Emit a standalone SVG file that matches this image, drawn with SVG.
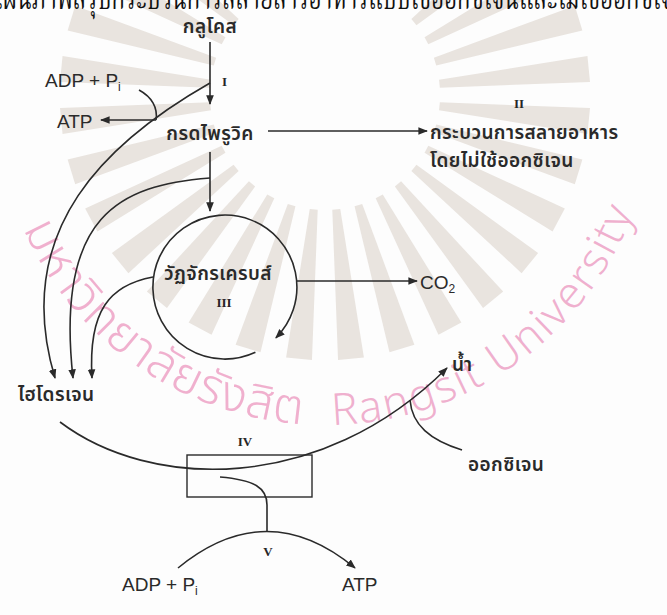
<svg xmlns="http://www.w3.org/2000/svg" xmlns:xlink="http://www.w3.org/1999/xlink" width="667" height="615" viewBox="0 0 667 615">
  <defs>
    <style>
      .th{font-family:"Noto Sans Thai","Noto Sans Thai UI","Noto Sans","DejaVu Sans",sans-serif;font-size:19px;font-weight:600;fill:#2a2a2a;letter-spacing:0.4px}
      .la{font-family:"Liberation Sans","Noto Sans",sans-serif;font-size:19px;fill:#2a2a2a}
      .rom{font-family:"Liberation Serif",serif;font-weight:bold;font-size:13px;fill:#262626}
      .ln{fill:none;stroke:#2a2a2a;stroke-width:1.6}
      .box{fill:none;stroke:#2a2a2a;stroke-width:1.4}
      .ray{fill:#e9e4df}
      .wm{font-family:"Noto Sans Thai","Lato","Noto Sans",sans-serif;font-weight:300;fill:#eda2c6;fill-opacity:0.85}
      .title{font-family:"Noto Serif Thai","Noto Sans Thai","Liberation Serif",serif;font-size:34px;fill:#111}
    </style>
    <marker id="ah" viewBox="0 0 10 10" refX="9" refY="5" markerWidth="6" markerHeight="6" orient="auto-start-reverse">
      <path d="M0,1 L10,5 L0,9 z" fill="#2a2a2a"/>
    </marker>
    <polygon id="ray" points="115,-4 265,-13 265,13 115,4"/>
    <path id="ring" d="M0,152.3 A330,330 0 0 0 650,152.3"/>
  </defs>

  <rect width="667" height="615" fill="#fdfdfd"/>

  <!-- sunburst emblem behind the chart -->
  <g id="sunburst" transform="translate(325,95)">
    <use xlink:href="#ray" class="ray" transform="rotate(5.625)"/>
    <use xlink:href="#ray" class="ray" transform="rotate(16.875)"/>
    <use xlink:href="#ray" class="ray" transform="rotate(28.125)"/>
    <use xlink:href="#ray" class="ray" transform="rotate(39.375)"/>
    <use xlink:href="#ray" class="ray" transform="rotate(50.625)"/>
    <use xlink:href="#ray" class="ray" transform="rotate(61.875)"/>
    <use xlink:href="#ray" class="ray" transform="rotate(73.125)"/>
    <use xlink:href="#ray" class="ray" transform="rotate(84.375)"/>
    <use xlink:href="#ray" class="ray" transform="rotate(95.625)"/>
    <use xlink:href="#ray" class="ray" transform="rotate(106.875)"/>
    <use xlink:href="#ray" class="ray" transform="rotate(118.125)"/>
    <use xlink:href="#ray" class="ray" transform="rotate(129.375)"/>
    <use xlink:href="#ray" class="ray" transform="rotate(140.625)"/>
    <use xlink:href="#ray" class="ray" transform="rotate(151.875)"/>
    <use xlink:href="#ray" class="ray" transform="rotate(163.125)"/>
    <use xlink:href="#ray" class="ray" transform="rotate(174.375)"/>
    <use xlink:href="#ray" class="ray" transform="rotate(185.625)"/>
    <use xlink:href="#ray" class="ray" transform="rotate(196.875)"/>
    <use xlink:href="#ray" class="ray" transform="rotate(208.125)"/>
    <use xlink:href="#ray" class="ray" transform="rotate(219.375)"/>
    <use xlink:href="#ray" class="ray" transform="rotate(320.625)"/>
    <use xlink:href="#ray" class="ray" transform="rotate(331.875)"/>
    <use xlink:href="#ray" class="ray" transform="rotate(343.125)"/>
    <use xlink:href="#ray" class="ray" transform="rotate(354.375)"/>
  </g>

  <!-- ring lettering of the emblem -->
  <g id="ring-text" class="wm">
    <text font-size="49" letter-spacing="1"><textPath xlink:href="#ring" startOffset="80">มหาวิทยาลัยรังสิต</textPath></text>
    <text font-size="44" letter-spacing="2"><textPath xlink:href="#ring" startOffset="468">Rangsit University</textPath></text>
  </g>

  <!-- heading line, cut by the top edge -->
  <text class="title" x="-12" y="9" textLength="700" lengthAdjust="spacingAndGlyphs">แผนภาพสรุปกระบวนการสลายสารอาหารแบบใช้ออกซิเจนและไม่ใช้ออกซิเจน</text>

  <g id="connectors">
    <path class="ln" d="M210,42 V104" marker-end="url(#ah)"/>
    <path class="ln" d="M210,152 V211" marker-end="url(#ah)"/>
    <path class="ln" d="M268,131 H427" marker-end="url(#ah)"/>
    <path class="ln" d="M156,120 H101" marker-end="url(#ah)"/>
    <path class="ln" d="M139,90 C152,97 158,108 156,120"/>
    <path class="ln" d="M210,83 C110,140 10,228 55,378" marker-end="url(#ah)"/>
    <path class="ln" d="M210,178 C120,185 55,215 73,378" marker-end="url(#ah)"/>
    <path class="ln" d="M153,277 C110,285 88,310 92,378" marker-end="url(#ah)"/>
    <path class="ln" d="M255.4,352.3 A72,72 0 1 1 275.9,337.9" marker-end="url(#ah)"/>
    <path class="ln" d="M297,281 H417" marker-end="url(#ah)"/>
    <path class="ln" d="M60,422 C150,490 320,495 447,368" marker-end="url(#ah)"/>
    <path class="ln" d="M410,400 C412,425 430,440 462,450"/>
    <path class="ln" d="M220,477 C255,480 267,488 267,505 V531"/>
    <path class="ln" d="M178,568 Q267,495 355,568" marker-end="url(#ah)"/>
  </g>

  <g id="glucose"><text class="th" x="210" y="33" text-anchor="middle">กลูโคส</text></g>
  <g id="stage-1"><text class="rom" x="222" y="86">I</text></g>
  <g id="adp-top"><text class="la" x="45" y="87">ADP + P<tspan font-size="12" dy="4">i</tspan></text></g>
  <g id="atp-top"><text class="la" x="57" y="128">ATP</text></g>
  <g id="pyruvate"><text class="th" x="210" y="140" text-anchor="middle">กรดไพรูวิค</text></g>
  <g id="anaerobic">
    <text class="rom" x="519" y="108" text-anchor="middle">II</text>
    <text class="th" x="430" y="139">กระบวนการสลายอาหาร</text>
    <text class="th" x="430" y="167">โดยไม่ใช้ออกซิเจน</text>
  </g>
  <g id="krebs">
    <text class="th" x="218" y="280" text-anchor="middle" font-size="18">วัฏจักรเครบส์</text>
    <text class="rom" x="224" y="307" text-anchor="middle">III</text>
  </g>
  <g id="co2"><text class="la" x="420" y="289">CO<tspan font-size="12" dy="4">2</tspan></text></g>
  <g id="hydrogen"><text class="th" x="18" y="401">ไฮโดรเจน</text></g>
  <g id="water"><text class="th" x="452" y="371">น้ำ</text></g>
  <g id="stage-4">
    <rect class="box" x="187" y="455" width="125" height="42"/>
    <text class="rom" x="245" y="446" text-anchor="middle">IV</text>
  </g>
  <g id="oxygen"><text class="th" x="468" y="471">ออกซิเจน</text></g>
  <g id="stage-5"><text class="rom" x="268" y="556" text-anchor="middle">V</text></g>
  <g id="adp-bottom"><text class="la" x="122" y="591">ADP + P<tspan font-size="12" dy="4">i</tspan></text></g>
  <g id="atp-bottom"><text class="la" x="342" y="591">ATP</text></g>
</svg>
